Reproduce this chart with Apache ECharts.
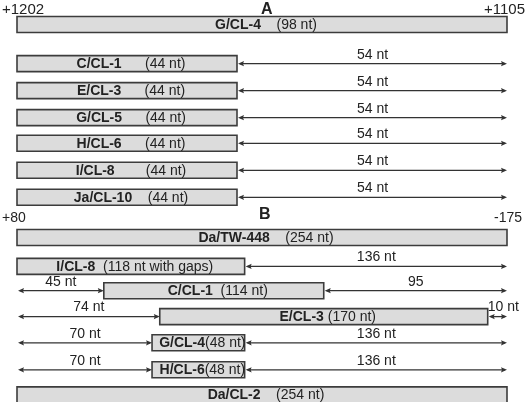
<!DOCTYPE html>
<html><head><meta charset="utf-8">
<script src="https://cdn.jsdelivr.net/npm/echarts@6/dist/echarts.min.js"></script>
<style>html,body{margin:0;padding:0;background:#fff}#c{width:525px;height:402px}</style>
</head><body><div id="c"></div>
<script>
// ---------- Panel A : +1202 .. +1105 (98 nt) ----------
const aTitle = 'A';
const aTicks = ['+1202', '+1105'];
const aNames = ['G/CL-4', 'C/CL-1', 'E/CL-3', 'G/CL-5', 'H/CL-6', 'I/CL-8', 'Ja/CL-10'];
const aNotes = ['    (98 nt)', '      (44 nt)', '      (44 nt)', '      (44 nt)', '      (44 nt)', '        (44 nt)', '    (44 nt)'];
const aStart = [0, 0, 0, 0, 0, 0, 0];
const aEnd = [98, 44, 44, 44, 44, 44, 44];
const aLane = [0, 1.45, 2.45, 3.45, 4.4, 5.4, 6.4];
const aArrowRow = [1, 2, 3, 4, 5, 6];
const aArrowFrom = [44, 44, 44, 44, 44, 44];
const aArrowTo = [98, 98, 98, 98, 98, 98];
const aArrowText = ['54 nt', '54 nt', '54 nt', '54 nt', '54 nt', '54 nt'];

// ---------- Panel B : +80 .. -175 (254 nt) ----------
const bTitle = 'B';
const bTicks = ['+80', '-175'];
const bNames = ['Da/TW-448', 'I/CL-8', 'C/CL-1', 'E/CL-3', 'G/CL-4', 'H/CL-6', 'Da/CL-2'];
const bNotes = ['    (254 nt)', '  (118 nt with gaps)', '  (114 nt)', ' (170 nt)', '(48 nt)', '(48 nt)', '    (254 nt)'];
const bStart = [0, 0, 45, 74, 70, 70, 0];
const bEnd = [254, 118, 159, 244, 118, 118, 254];
const bLane = [0, 1.07, 1.97, 2.93, 3.9, 4.9, 5.83];
const bArrowRow = [1, 2, 2, 3, 3, 4, 4, 5, 5];
const bArrowFrom = [118, 0, 159, 0, 244, 0, 118, 0, 118];
const bArrowTo = [254, 45, 254, 74, 254, 70, 254, 70, 254];
const bArrowText = ['136 nt', '45 nt', '95', '74 nt', '10 nt', '70 nt', '136 nt', '70 nt', '136 nt'];

const FONT = '"Liberation Sans", Arial, Helvetica, sans-serif';
const INK = '#222';

function barData(starts, ends, lanes) {
  return starts.map((s, i) => [s, lanes[i], ends[i], i]);
}
function arrowData(rows, from, to, lanes) {
  return rows.map((r, i) => [from[i], lanes[r], to[i], i]);
}
function barRenderer(names, notes) {
  return function (params, api) {
    const p1 = api.coord([api.value(0), api.value(1)]);
    const p2 = api.coord([api.value(2), api.value(1)]);
    const i = api.value(3);
    const h = 16;
    return {
      type: 'group',
      children: [
        { type: 'rect', shape: { x: p1[0], y: p1[1] - h / 2, width: p2[0] - p1[0], height: h },
          style: { fill: '#dcdcdc', stroke: '#3c3c3c', lineWidth: 1.6 } },
        { type: 'text', style: {
            text: '{b|' + names[i] + '}{n|' + notes[i] + '}',
            x: (p1[0] + p2[0]) / 2 + 4, y: p1[1] + 0.5, align: 'center', verticalAlign: 'middle',
            rich: {
              b: { fontFamily: FONT, fontSize: 14, fontWeight: 'bold', fill: INK },
              n: { fontFamily: FONT, fontSize: 14, fill: INK }
            } } }
      ]
    };
  };
}
function arrowRenderer(texts) {
  return function (params, api) {
    const p1 = api.coord([api.value(0), api.value(1)]);
    const p2 = api.coord([api.value(2), api.value(1)]);
    const i = api.value(3);
    const x1 = p1[0] + 1, x2 = p2[0], y = p1[1];
    const L = 6, W = 2.6;
    const short = (x2 - x1) < 34;
    return {
      type: 'group',
      children: [
        { type: 'line', shape: { x1: x1 + 2, y1: y, x2: x2 - 2, y2: y }, style: { stroke: '#333', lineWidth: 1.3 } },
        { type: 'polygon', shape: { points: [[x1, y], [x1 + L, y - W], [x1 + L - 1, y], [x1 + L, y + W]] }, style: { fill: '#333' } },
        { type: 'polygon', shape: { points: [[x2, y], [x2 - L, y - W], [x2 - L + 1, y], [x2 - L, y + W]] }, style: { fill: '#333' } },
        { type: 'text', style: {
            text: texts[i], x: short ? x1 - 1 : (x1 + x2) / 2, y: y - 9,
            align: short ? 'left' : 'center', verticalAlign: 'middle',
            fontFamily: FONT, fontSize: 14, fill: INK } }
      ]
    };
  };
}

const chart = echarts.init(document.getElementById('c'), null, { renderer: 'canvas' });
const hiddenY = { type: 'value', inverse: true, show: false };
const hiddenX = { type: 'value', show: false };
chart.setOption({
  animation: false,
  grid: [
    { left: 17, right: 18, top: 11, bottom: 191.2 },
    { left: 17, right: 18, top: 224, bottom: 2.5 }
  ],
  xAxis: [
    Object.assign({ gridIndex: 0, min: 0, max: 98 }, hiddenX),
    Object.assign({ gridIndex: 1, min: 0, max: 254 }, hiddenX)
  ],
  yAxis: [
    Object.assign({ gridIndex: 0, min: -0.5, max: 6.9 }, hiddenY),
    Object.assign({ gridIndex: 1, min: -0.5, max: 6.0 }, hiddenY)
  ],
  graphic: [
    { type: 'text', left: 2, top: 2, style: { text: aTicks[0], fontFamily: FONT, fontSize: 15, fill: INK } },
    { type: 'text', right: 0, top: 2, style: { text: aTicks[1], fontFamily: FONT, fontSize: 15, fill: INK } },
    { type: 'text', left: 261, top: 2, style: { text: aTitle, fontFamily: FONT, fontSize: 16, fontWeight: 'bold', fill: INK } },
    { type: 'text', left: 2, top: 211, style: { text: bTicks[0], fontFamily: FONT, fontSize: 14, fill: INK } },
    { type: 'text', right: 3, top: 211, style: { text: bTicks[1], fontFamily: FONT, fontSize: 14, fill: INK } },
    { type: 'text', left: 259, top: 207, style: { text: bTitle, fontFamily: FONT, fontSize: 16, fontWeight: 'bold', fill: INK } }
  ],
  series: [
    { type: 'custom', xAxisIndex: 0, yAxisIndex: 0, clip: false, renderItem: barRenderer(aNames, aNotes),
      data: barData(aStart, aEnd, aLane) },
    { type: 'custom', xAxisIndex: 0, yAxisIndex: 0, clip: false, renderItem: arrowRenderer(aArrowText),
      data: arrowData(aArrowRow, aArrowFrom, aArrowTo, aLane) },
    { type: 'custom', xAxisIndex: 1, yAxisIndex: 1, clip: false, renderItem: barRenderer(bNames, bNotes),
      data: barData(bStart, bEnd, bLane) },
    { type: 'custom', xAxisIndex: 1, yAxisIndex: 1, clip: false, renderItem: arrowRenderer(bArrowText),
      data: arrowData(bArrowRow, bArrowFrom, bArrowTo, bLane) }
  ]
});
</script></body></html>
